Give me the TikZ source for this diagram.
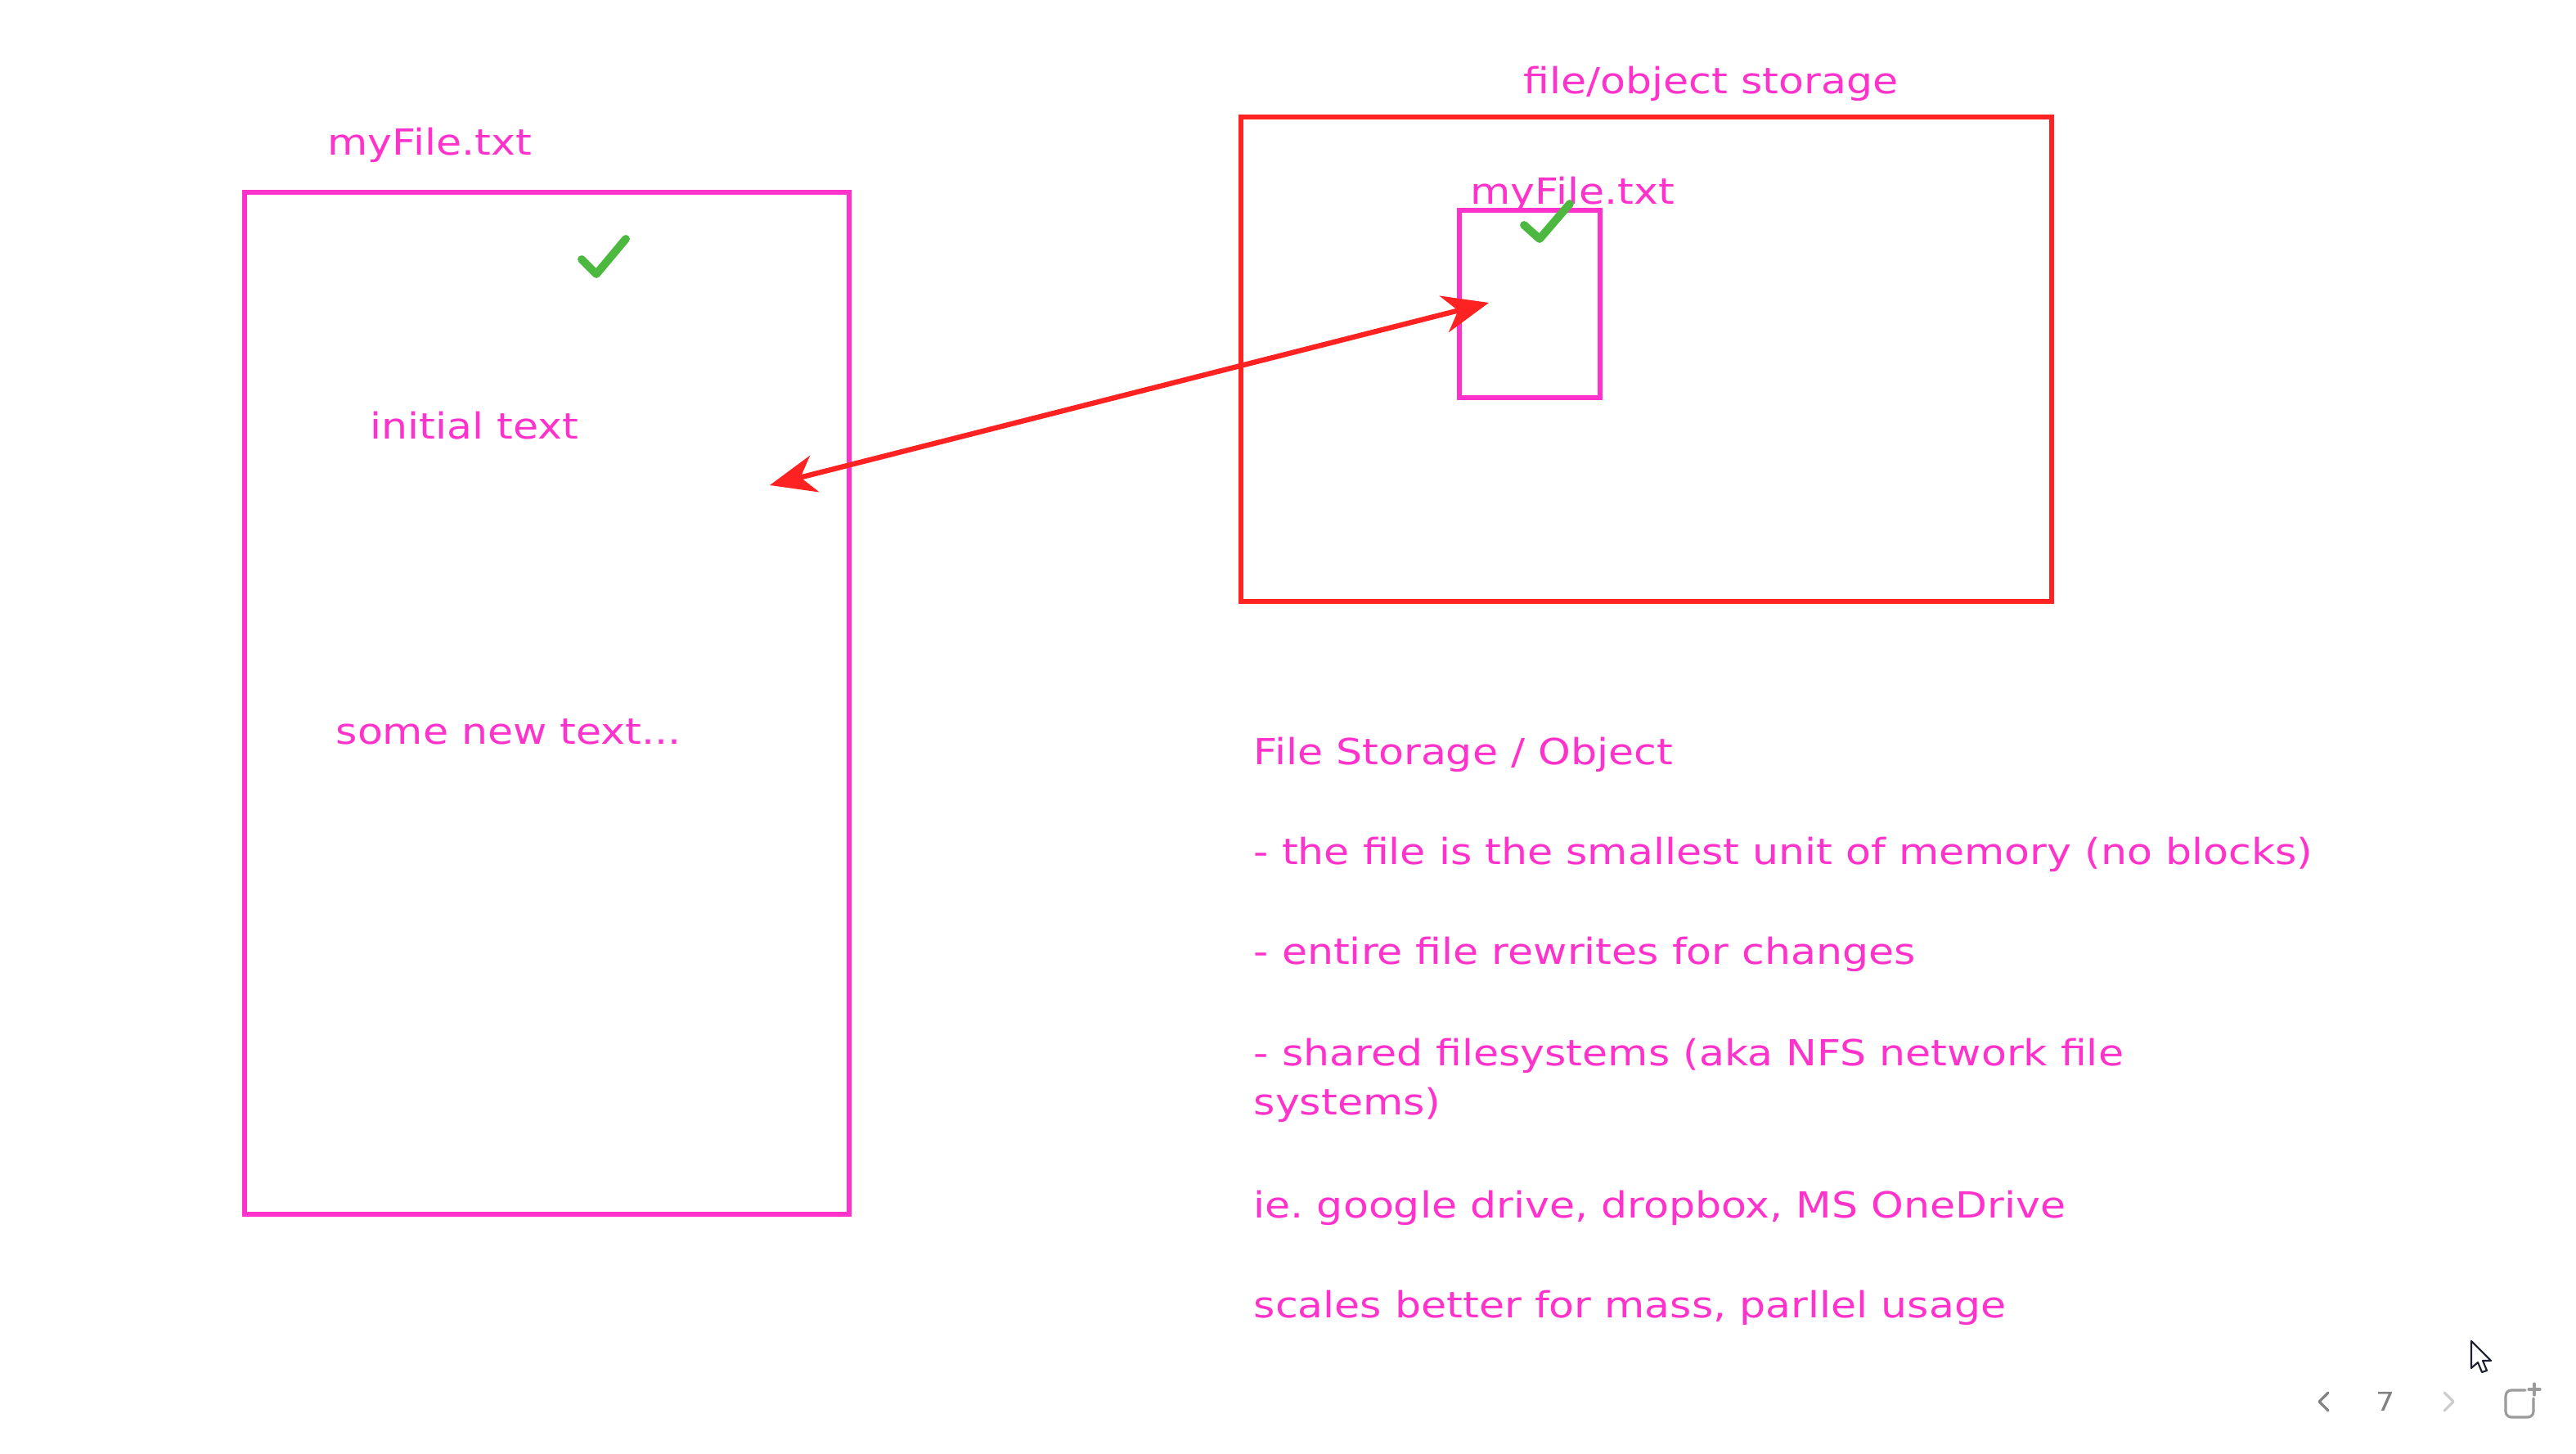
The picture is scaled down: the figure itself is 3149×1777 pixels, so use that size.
\documentclass[tikz,border=0pt]{standalone}
\usepackage{fontspec}
\setmainfont{DejaVu Sans}[FakeStretch=1.15]
\usetikzlibrary{arrows.meta}
\frenchspacing
\definecolor{pinkc}{RGB}{255,51,204}
\definecolor{redc}{RGB}{255,34,34}
\definecolor{greenc}{RGB}{76,184,64}
\definecolor{uigray}{RGB}{130,130,130}
\definecolor{uilight}{RGB}{205,205,205}
\definecolor{cursorc}{RGB}{30,32,48}
\begin{document}
\begin{tikzpicture}[x=0.01cm,y=-0.01cm,
  pinkbox/.style={draw=pinkc,line width=1.7pt,rectangle,inner sep=0pt},
  redbox/.style={draw=redc,line width=1.7pt,rectangle,inner sep=0pt},
  lbl/.style={text=pinkc,anchor=base west,inner sep=0pt,font=\fontsize{12.5}{15}\selectfont},
  checkmark/.style={draw=greenc,line width=2.8pt,line cap=round,line join=round},
  link/.style={draw=redc,line width=1.8pt,{Stealth[length=16pt,width=13pt,inset=5pt]}-{Stealth[length=16pt,width=13pt,inset=5pt]}},
  uiline/.style={line width=0.9pt,line cap=round,line join=round}
]
\useasboundingbox[fill=white] (0,0) rectangle (3149,1777);

% left file box
\node[pinkbox,minimum width=7.39cm,minimum height=12.49cm] (leftbox) at (668.5,859.5) {};
\node[lbl] (leftlabel) at (400,190) {myFile.txt};
\draw[checkmark] (711,317) -- (729,335) -- (765,292);
\node[lbl] (initial) at (452,537) {initial text};
\node[lbl] (newtext) at (410,910) {some new text...};

% storage box
\node[redbox,minimum width=9.91cm,minimum height=5.92cm] (storage) at (2012.5,439) {};
\node[lbl] (storagelabel) at (1862,115) {file/object storage};
\node[pinkbox,line width=1.5pt,minimum width=1.72cm,minimum height=2.29cm] (innerbox) at (1870,371.5) {};
\node[lbl] (innerlabel) at (1797,250) {myFile.txt};
\draw[checkmark] (1863,275) -- (1882,292) -- (1919,249);

% arrow
\coordinate (aright) at (1820,370);
\coordinate (aleft) at (941,593);
\draw[link] (aright) -- (aleft);

% notes
\node[lbl] (t1) at (1532,935) {File Storage / Object};
\node[lbl] (t2) at (1532,1057) {- the file is the smallest unit of memory (no blocks)};
\node[lbl] (t3) at (1532,1179) {- entire file rewrites for changes};
\node[lbl] (t4) at (1532,1302) {- shared filesystems (aka NFS network file};
\node[lbl] (t4b) at (1532,1362) {systems)};
\node[lbl] (t5) at (1532,1488) {ie. google drive, dropbox, MS OneDrive};
\node[lbl] (t6) at (1532,1610) {scales better for mass, parllel usage};

% UI elements bottom right
\draw[uiline,draw=uigray] (2846,1702) -- (2835,1713) -- (2846,1724);
\node[text=uigray,inner sep=0pt,font=\fontsize{9}{10}\selectfont] (pagenum) at (2916,1713) {7};
\draw[uiline,draw=uilight] (2988,1702) -- (2999,1713) -- (2988,1724);
\draw[uiline,draw=uigray!80,rounded corners=2pt] (3087,1699) -- (3063,1699) -- (3063,1732) -- (3097,1732) -- (3097,1709);
\draw[uiline,draw=uigray!80] (3098,1691) -- (3098,1705) (3091,1698) -- (3105,1698);
\draw[fill=white,draw=cursorc,line width=0.6pt,line join=round]
  (3021,1639) -- (3021,1672) -- (3029,1665) -- (3034,1677) -- (3040,1675) -- (3035,1663) -- (3045,1663) -- cycle;
\end{tikzpicture}
\end{document}
